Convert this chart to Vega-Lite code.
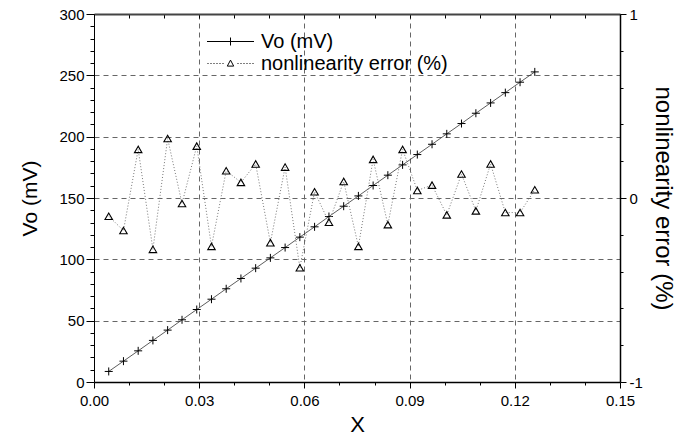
{
  "$schema": "https://vega.github.io/schema/vega-lite/v6.json",
  "width": 526,
  "height": 368,
  "autosize": {"type": "none"},
  "padding": {"left": 94, "top": 14, "right": 63, "bottom": 55},
  "background": "white",
  "config": {
    "view": {"stroke": null},
    "font": "Liberation Sans",
    "axis": {
      "labelFont": "Liberation Sans",
      "titleFont": "Liberation Sans",
      "titleFontWeight": "normal",
      "labelColor": "#000",
      "titleColor": "#000",
      "tickColor": "#000",
      "domainColor": "#000",
      "labelFlush": false,
      "labelOverlap": false
    },
    "legend": {
      "orient": "none",
      "legendX": 126,
      "legendY": 17,
      "labelFont": "Liberation Sans",
      "labelFontSize": 20,
      "labelColor": "#000",
      "labelLimit": 0,
      "symbolSize": 400,
      "symbolStrokeColor": "#000",
      "symbolStrokeWidth": 1,
      "symbolFillColor": "transparent",
      "symbolOpacity": 1,
      "labelOffset": 20,
      "rowPadding": 1,
      "padding": 0
    }
  },
  "data": {
    "values": [
      {"x": 0.0042, "s": "Vo (mV)", "v": 8.6},
      {"x": 0.0084, "s": "Vo (mV)", "v": 17.0},
      {"x": 0.0126, "s": "Vo (mV)", "v": 25.4},
      {"x": 0.0168, "s": "Vo (mV)", "v": 33.9},
      {"x": 0.0210, "s": "Vo (mV)", "v": 42.3},
      {"x": 0.0251, "s": "Vo (mV)", "v": 50.7},
      {"x": 0.0293, "s": "Vo (mV)", "v": 59.1},
      {"x": 0.0335, "s": "Vo (mV)", "v": 67.5},
      {"x": 0.0377, "s": "Vo (mV)", "v": 76.0},
      {"x": 0.0419, "s": "Vo (mV)", "v": 84.4},
      {"x": 0.0461, "s": "Vo (mV)", "v": 92.8},
      {"x": 0.0503, "s": "Vo (mV)", "v": 101.2},
      {"x": 0.0545, "s": "Vo (mV)", "v": 109.6},
      {"x": 0.0587, "s": "Vo (mV)", "v": 118.1},
      {"x": 0.0629, "s": "Vo (mV)", "v": 126.5},
      {"x": 0.0670, "s": "Vo (mV)", "v": 134.9},
      {"x": 0.0712, "s": "Vo (mV)", "v": 143.3},
      {"x": 0.0754, "s": "Vo (mV)", "v": 151.7},
      {"x": 0.0796, "s": "Vo (mV)", "v": 160.2},
      {"x": 0.0838, "s": "Vo (mV)", "v": 168.6},
      {"x": 0.0880, "s": "Vo (mV)", "v": 177.0},
      {"x": 0.0922, "s": "Vo (mV)", "v": 185.4},
      {"x": 0.0964, "s": "Vo (mV)", "v": 193.8},
      {"x": 0.1006, "s": "Vo (mV)", "v": 202.3},
      {"x": 0.1048, "s": "Vo (mV)", "v": 210.7},
      {"x": 0.1089, "s": "Vo (mV)", "v": 219.1},
      {"x": 0.1131, "s": "Vo (mV)", "v": 227.5},
      {"x": 0.1173, "s": "Vo (mV)", "v": 235.9},
      {"x": 0.1215, "s": "Vo (mV)", "v": 244.4},
      {"x": 0.1257, "s": "Vo (mV)", "v": 252.8},
      {"x": 0.0042, "s": "nonlinearity error (%)", "v": -0.099},
      {"x": 0.0084, "s": "nonlinearity error (%)", "v": -0.177},
      {"x": 0.0126, "s": "nonlinearity error (%)", "v": 0.264},
      {"x": 0.0168, "s": "nonlinearity error (%)", "v": -0.279},
      {"x": 0.0210, "s": "nonlinearity error (%)", "v": 0.323},
      {"x": 0.0251, "s": "nonlinearity error (%)", "v": -0.030},
      {"x": 0.0293, "s": "nonlinearity error (%)", "v": 0.282},
      {"x": 0.0335, "s": "nonlinearity error (%)", "v": -0.263},
      {"x": 0.0377, "s": "nonlinearity error (%)", "v": 0.148},
      {"x": 0.0419, "s": "nonlinearity error (%)", "v": 0.085},
      {"x": 0.0461, "s": "nonlinearity error (%)", "v": 0.185},
      {"x": 0.0503, "s": "nonlinearity error (%)", "v": -0.243},
      {"x": 0.0545, "s": "nonlinearity error (%)", "v": 0.168},
      {"x": 0.0587, "s": "nonlinearity error (%)", "v": -0.379},
      {"x": 0.0629, "s": "nonlinearity error (%)", "v": 0.034},
      {"x": 0.0670, "s": "nonlinearity error (%)", "v": -0.132},
      {"x": 0.0712, "s": "nonlinearity error (%)", "v": 0.090},
      {"x": 0.0754, "s": "nonlinearity error (%)", "v": -0.263},
      {"x": 0.0796, "s": "nonlinearity error (%)", "v": 0.210},
      {"x": 0.0838, "s": "nonlinearity error (%)", "v": -0.145},
      {"x": 0.0880, "s": "nonlinearity error (%)", "v": 0.264},
      {"x": 0.0922, "s": "nonlinearity error (%)", "v": 0.041},
      {"x": 0.0964, "s": "nonlinearity error (%)", "v": 0.070},
      {"x": 0.1006, "s": "nonlinearity error (%)", "v": -0.092},
      {"x": 0.1048, "s": "nonlinearity error (%)", "v": 0.130},
      {"x": 0.1089, "s": "nonlinearity error (%)", "v": -0.070},
      {"x": 0.1131, "s": "nonlinearity error (%)", "v": 0.185},
      {"x": 0.1173, "s": "nonlinearity error (%)", "v": -0.079},
      {"x": 0.1215, "s": "nonlinearity error (%)", "v": -0.079},
      {"x": 0.1257, "s": "nonlinearity error (%)", "v": 0.045}
    ]
  },
  "layer": [
    {
      "transform": [{"filter": "datum.s === 'Vo (mV)'"}],
      "encoding": {
        "x": {
          "field": "x",
          "type": "quantitative",
          "scale": {"domain": [0, 0.15], "nice": false, "zero": false},
          "axis": {
            "orient": "bottom",
            "values": [0, 0.01, 0.02, 0.03, 0.04, 0.05, 0.06, 0.07, 0.08, 0.09, 0.1, 0.11, 0.12, 0.13, 0.14, 0.15],
            "labelExpr": "round(datum.value*100) % 3 === 0 ? format(datum.value, '.2f') : ''",
            "tickSize": {"condition": {"test": "round(datum.value*100) % 3 === 0", "value": 6}, "value": 3},
            "grid": true,
            "gridColor": "#666",
            "gridDash": [5, 4],
            "gridWidth": 1,
            "gridOpacity": {"condition": {"test": "round(datum.value*100) % 3 === 0 && datum.value > 0.001 && datum.value < 0.149", "value": 1}, "value": 0},
            "labelFontSize": 15,
            "labelPadding": 5,
            "title": "X",
            "titleFontSize": 22,
            "titlePadding": 6,
            "domainWidth": 1.5
          }
        },
        "y": {
          "field": "v",
          "type": "quantitative",
          "scale": {"domain": [0, 300], "nice": false},
          "axis": {
            "orient": "left",
            "values": [0, 10, 20, 30, 40, 50, 60, 70, 80, 90, 100, 110, 120, 130, 140, 150, 160, 170, 180, 190, 200, 210, 220, 230, 240, 250, 260, 270, 280, 290, 300],
            "labelExpr": "datum.value % 50 === 0 ? datum.label : ''",
            "tickSize": {"condition": {"test": "datum.value % 50 === 0", "value": 8}, "value": 4},
            "grid": true,
            "gridColor": "#666",
            "gridDash": [5, 4],
            "gridWidth": 1,
            "gridOpacity": {"condition": {"test": "datum.value % 50 === 0 && datum.value > 0 && datum.value < 300", "value": 1}, "value": 0},
            "labelFontSize": 15,
            "labelPadding": 2,
            "title": "Vo (mV)",
            "titleFontSize": 21,
            "titlePadding": 18,
            "domainWidth": 1
          }
        }
      },
      "layer": [
        {"mark": {"type": "line", "color": "#333", "strokeWidth": 0.8}},
        {"mark": {"type": "point", "shape": "M-1,0L1,0M0,-1L0,1", "size": 64, "filled": false, "stroke": "#000", "strokeWidth": 1, "opacity": 1}},
        {
          "mark": {"type": "point", "opacity": 0, "filled": false},
          "encoding": {
            "shape": {
              "field": "s",
              "type": "nominal",
              "scale": {
                "domain": ["Vo (mV)", "nonlinearity error (%)"],
                "range": [
                  "M-2.35,0L2.35,0M0,-0.4L0,0.4",
                  "M-2.3,0L-2.2,0M-2.0,0L-1.9,0M-1.7,0L-1.6,0M-1.4,0L-1.3,0M-1.1,0L-1.0,0M-0.8,0L-0.7,0M0,-0.34L0.32,0.26L-0.32,0.26ZM0.7,0L0.8,0M1.0,0L1.1,0M1.3,0L1.4,0M1.6,0L1.7,0M1.9,0L2.0,0M2.2,0L2.3,0"
                ]
              },
              "legend": {
                "title": null,
                "labelLimit": 0,
                "labelExpr": "datum.label === 'Vo (mV)' ? datum.label : '\u00a0' + datum.label"
              }
            }
          }
        }
      ]
    },
    {
      "transform": [{"filter": "datum.s !== 'Vo (mV)'"}],
      "encoding": {
        "x": {
          "field": "x",
          "type": "quantitative",
          "scale": {"domain": [0, 0.15], "nice": false, "zero": false},
          "axis": {
            "orient": "top",
            "values": [0, 0.01, 0.02, 0.03, 0.04, 0.05, 0.06, 0.07, 0.08, 0.09, 0.1, 0.11, 0.12, 0.13, 0.14, 0.15],
            "labels": false,
            "tickSize": -4,
            "grid": false,
            "title": null,
            "domainWidth": 2,
            "domainColor": "#444"
          }
        },
        "y": {
          "field": "v",
          "type": "quantitative",
          "scale": {"domain": [-1, 1], "nice": false},
          "axis": {
            "orient": "right",
            "values": [-1, -0.8, -0.6, -0.4, -0.2, 0, 0.2, 0.4, 0.6, 0.8, 1],
            "labelExpr": "datum.value > 0.99 ? '1' : datum.value < -0.99 ? '-1' : abs(datum.value) < 0.001 ? '0' : ''",
            "tickSize": {"condition": {"test": "abs(datum.value) < 0.001 || abs(datum.value) > 0.99", "value": 6}, "value": 3},
            "grid": false,
            "labelFontSize": 15,
            "labelPadding": 3,
            "title": "nonlinearity error (%)",
            "titleFontSize": 24,
            "titlePadding": 8,
            "domainWidth": 1.5
          }
        }
      },
      "layer": [
        {"mark": {"type": "line", "color": "#777", "strokeWidth": 1, "strokeDash": [1, 2]}},
        {"mark": {"type": "point", "shape": "triangle-up", "size": 56, "filled": false, "stroke": "#000", "strokeWidth": 1.1, "opacity": 1}}
      ]
    }
  ],
  "resolve": {"scale": {"y": "independent"}, "axis": {"x": "independent", "y": "independent"}}
}
